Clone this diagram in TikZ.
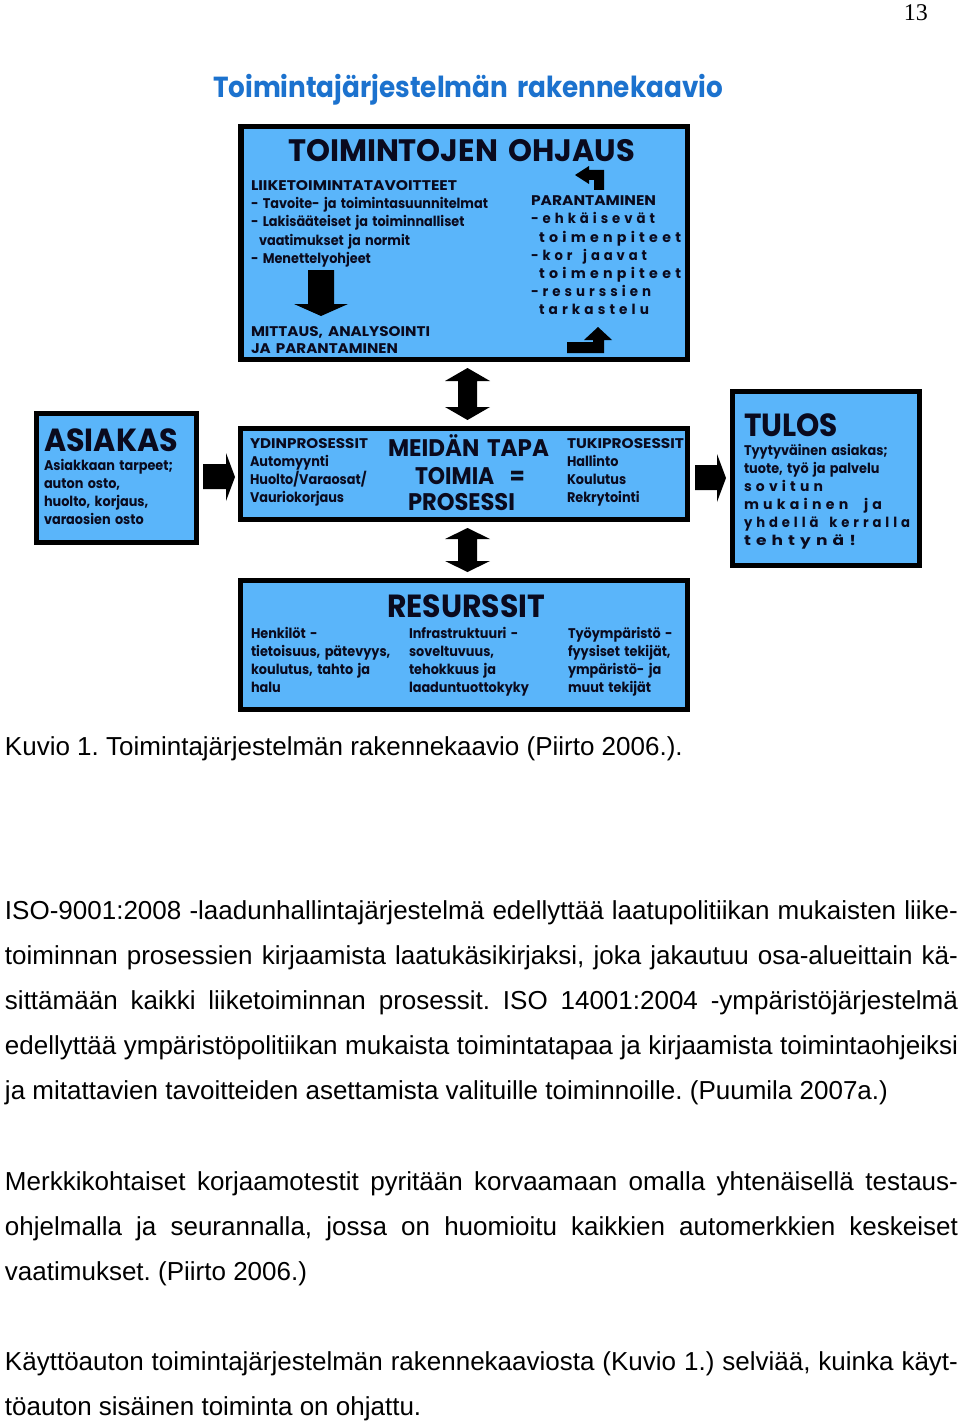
\documentclass[tikz,border=0pt]{standalone}
\usepackage{fontspec}
\setmainfont{Liberation Sans}
\newfontfamily\pop{Poppins}
\newfontfamily\popw[WordSpace=1.6]{Poppins}
\newfontfamily\tnr{Liberation Serif}
\definecolor{boxblue}{RGB}{90,181,250}
\definecolor{titleblue}{RGB}{28,114,206}
\definecolor{ink}{RGB}{10,10,30}
\newsavebox\calbox
\newcommand{\sm}{\popw\bfseries\fontsize{14}{16}\selectfont}
\newcommand{\fitw}[2]{\resizebox{#1pt}{\height}{#2}}
\newcommand{\lsp}[2]{\fitw{#1}{\addfontfeature{LetterSpace=30}#2}}
\newcommand{\st}[1]{\scalebox{\sx}[1]{#1}}
\tikzset{
  box/.style={draw=black, fill=boxblue, line width=5pt, inner sep=0pt},
  tx/.style={anchor=base west, inner sep=0pt, outer sep=0pt, text=ink, font=\sm},
  hd/.style={anchor=base west, inner sep=0pt, outer sep=0pt, text=ink, font=\popw\bfseries\fontsize{#1}{#1}\selectfont},
  body/.style={anchor=base west, inner sep=0pt, outer sep=0pt, text=black, font=\fontsize{26}{30}\selectfont},
  blk/.style={fill=black}
}
\frenchspacing
\begin{document}
\sbox\calbox{\sm - Tavoite- ja toimintasuunnitelmat}%
\pgfmathsetmacro{\sx}{237/\the\wd\calbox}%
\begin{tikzpicture}[x=1pt,y=-1pt]
\useasboundingbox (0,0) rectangle (960,1423);

% page number
\node[anchor=base east, inner sep=0pt, font=\tnr\fontsize{24}{26}\selectfont] (pnum) at (928,21) {13};

% title
\node[hd=29, text=titleblue, font=\pop\bfseries\fontsize{29}{29}\selectfont] (title) at (213,98) {\fitw{510}{Toimintajärjestelmän rakennekaavio}};

% boxes
\node[box, line width=5.5pt, minimum width=446.5pt, minimum height=232.5pt] (ohjaus) at (464,243) {};
\node[box, minimum width=160pt, minimum height=129pt] (asiakas) at (116.5,478) {};
\node[box, minimum width=447pt, minimum height=91pt] (mid) at (464,474) {};
\node[box, minimum width=187pt, minimum height=174pt] (tulos) at (826,478.5) {};
\node[box, minimum width=447pt, minimum height=129pt] (res) at (464,645) {};

% arrows between boxes
\fill[blk] (467.5,368) -- (490,381) -- (477,381) -- (477,407) -- (490,407) -- (467.5,420) -- (445,407) -- (458,407) -- (458,381) -- (445,381) -- cycle;
\fill[blk] (467.5,528) -- (490,539) -- (477,539) -- (477,561) -- (490,561) -- (467.5,572) -- (445,561) -- (458,561) -- (458,539) -- (445,539) -- cycle;
\fill[blk] (203,464) -- (226,464) -- (226,453) -- (235,477) -- (226,501) -- (226,489) -- (203,489) -- cycle;
\fill[blk] (695,465) -- (717,465) -- (717,454) -- (726,478) -- (717,502) -- (717,490) -- (695,490) -- cycle;

% arrows inside top box
\fill[blk] (308,270) -- (334,270) -- (334,304) -- (348,304) -- (321,316) -- (294,304) -- (308,304) -- cycle;
\fill[blk] (575,175) -- (589,166) -- (589,170) -- (604,170) -- (604,190) -- (594,190) -- (594,180) -- (589,180) -- (589,184) -- cycle;
\fill[blk] (598,327) -- (612,340) -- (604,340) -- (604,353) -- (567,353) -- (567,342) -- (593,342) -- (593,340) -- (584,340) -- cycle;

% TOIMINTOJEN OHJAUS
\node[hd=31] (oh) at (288,162) {\fitw{347}{TOIMINTOJEN OHJAUS}};
\node[tx] (o1) at (251,191) {\fitw{206}{LIIKETOIMINTATAVOITTEET}};
\node[tx] (o2) at (251,209) {\st{- Tavoite- ja toimintasuunnitelmat}};
\node[tx] (o3) at (251,227) {\st{- Lakisääteiset ja toiminnalliset}};
\node[tx] (o4) at (259,246) {\st{vaatimukset ja normit}};
\node[tx] (o5) at (251,264) {\st{- Menettelyohjeet}};
\node[tx] (o6) at (251,336) {\fitw{179}{MITTAUS, ANALYSOINTI}};
\node[tx] (o7) at (251,353) {\fitw{147}{JA PARANTAMINEN}};
\node[tx] (p1) at (531,206) {\fitw{125}{PARANTAMINEN}};
\node[tx] (p2) at (531,224) {\lsp{124}{-ehkäisevät}};
\node[tx] (p3) at (539,243) {\lsp{142}{toimenpiteet}};
\node[tx] (p4) at (531,260) {\lsp{116}{-kor jaavat}};
\node[tx] (p5) at (539,278) {\lsp{142}{toimenpiteet}};
\node[tx] (p6) at (531,296) {\lsp{120}{-resurssien}};
\node[tx] (p7) at (539,314) {\lsp{110}{tarkastelu}};

% ASIAKAS
\node[hd=32] (as) at (44,451) {\fitw{134}{ASIAKAS}};
\node[tx] (a1) at (44,470) {\st{Asiakkaan tarpeet;}};
\node[tx] (a2) at (44,488) {\st{auton osto,}};
\node[tx] (a3) at (44,506) {\st{huolto, korjaus,}};
\node[tx] (a4) at (44,524) {\st{varaosien osto}};

% middle
\node[tx] (m1) at (250,448) {\fitw{118}{YDINPROSESSIT}};
\node[tx] (m2) at (250,466) {\st{Automyynti}};
\node[tx] (m3) at (250,484) {\st{Huolto/Varaosat/}};
\node[tx] (m4) at (250,502) {\st{Vauriokorjaus}};
\node[hd=24] (mt1) at (388,456) {\fitw{161}{MEIDÄN TAPA}};
\node[hd=24] (mt2) at (415,484) {\fitw{110}{TOIMIA\hspace{0.7em}=}};
\node[hd=24] (mt3) at (408,510) {\fitw{107}{PROSESSI}};
\node[tx] (k1) at (567,448) {\fitw{117}{TUKIPROSESSIT}};
\node[tx] (k2) at (567,466) {\st{Hallinto}};
\node[tx] (k3) at (567,484) {\st{Koulutus}};
\node[tx] (k4) at (567,502) {\st{Rekrytointi}};

% TULOS
\node[hd=32] (tu) at (744,436) {\fitw{94}{TULOS}};
\node[tx] (t1) at (744,455) {\st{Tyytyväinen asiakas;}};
\node[tx] (t2) at (744,473) {\st{tuote, työ ja palvelu}};
\node[tx] (t3) at (744,491) {\lsp{79}{sovitun}};
\node[tx] (t4) at (744,509) {\lsp{138}{mukainen\hspace{0.3em} ja}};
\node[tx] (t5) at (744,527) {\lsp{166}{yhdellä kerralla}};
\node[tx] (t6) at (744,545) {\lsp{112}{tehtynä!}};

% RESURSSIT
\node[hd=32] (re) at (387,617) {\fitw{158}{RESURSSIT}};
\node[tx] (r11) at (251,638) {\st{Henkilöt -}};
\node[tx] (r12) at (251,656) {\st{tietoisuus, pätevyys,}};
\node[tx] (r13) at (251,674) {\st{koulutus, tahto ja}};
\node[tx] (r14) at (251,692) {\st{halu}};
\node[tx] (r21) at (409,638) {\st{Infrastruktuuri -}};
\node[tx] (r22) at (409,656) {\st{soveltuvuus,}};
\node[tx] (r23) at (409,674) {\st{tehokkuus ja}};
\node[tx] (r24) at (409,692) {\st{laaduntuottokyky}};
\node[tx] (r31) at (568,638) {\st{Työympäristö -}};
\node[tx] (r32) at (568,656) {\st{fyysiset tekijät,}};
\node[tx] (r33) at (568,674) {\st{ympäristö- ja}};
\node[tx] (r34) at (568,692) {\st{muut tekijät}};

% caption and body text
\node[body] (cap) at (5,755) {Kuvio 1. Toimintajärjestelmän rakennekaavio (Piirto 2006.).};
\node[body] (b1) at (5,919) {\makebox[953pt][s]{ISO-9001:2008 -laadunhallintajärjestelmä edellyttää laatupolitiikan mukaisten liike-}};
\node[body] (b2) at (5,964) {\makebox[953pt][s]{toiminnan prosessien kirjaamista laatukäsikirjaksi, joka jakautuu osa-alueittain kä-}};
\node[body] (b3) at (5,1009) {\makebox[953pt][s]{sittämään kaikki liiketoiminnan prosessit. ISO 14001:2004 -ympäristöjärjestelmä}};
\node[body] (b4) at (5,1054) {\makebox[953pt][s]{edellyttää ympäristöpolitiikan mukaista toimintatapaa ja kirjaamista toimintaohjeiksi}};
\node[body] (b5) at (5,1099) {ja mitattavien tavoitteiden asettamista valituille toiminnoille. (Puumila 2007a.)};
\node[body] (b6) at (5,1190) {\makebox[953pt][s]{Merkkikohtaiset korjaamotestit pyritään korvaamaan omalla yhtenäisellä testaus-}};
\node[body] (b7) at (5,1235) {\makebox[953pt][s]{ohjelmalla ja seurannalla, jossa on huomioitu kaikkien automerkkien keskeiset}};
\node[body] (b8) at (5,1280) {vaatimukset. (Piirto 2006.)};
\node[body] (b9) at (5,1370) {\makebox[953pt][s]{Käyttöauton toimintajärjestelmän rakennekaaviosta (Kuvio 1.) selviää, kuinka käyt-}};
\node[body] (b10) at (5,1415) {töauton sisäinen toiminta on ohjattu.};
\end{tikzpicture}
\end{document}
